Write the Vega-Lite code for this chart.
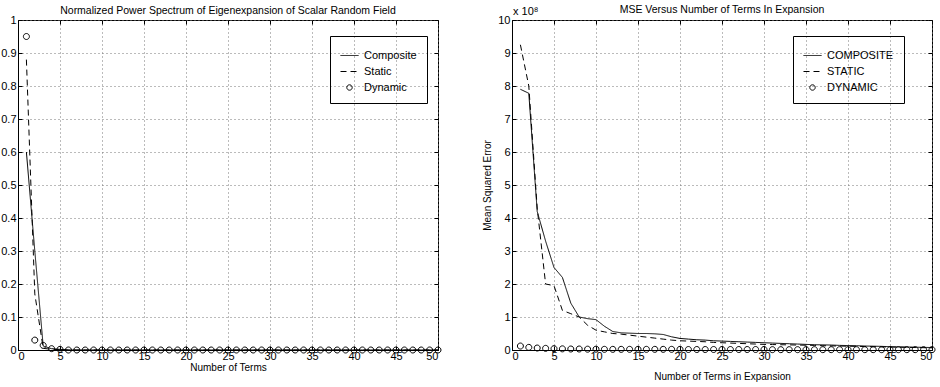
{
  "$schema": "https://vega.github.io/schema/vega-lite/v6.json",
  "background": "white",
  "padding": {"left": 0, "top": 4, "right": 0, "bottom": 0},
  "spacing": 38,
  "resolve": {
    "scale": {"strokeDash": "independent", "shape": "independent"},
    "legend": {"strokeDash": "independent", "shape": "independent"}
  },
  "config": {
    "font": "Liberation Sans",
    "view": {"stroke": "black", "strokeWidth": 1},
    "mark": {"color": "black"},
    "axis": {
      "domainColor": "black", "tickColor": "black", "labelColor": "black", "titleColor": "black",
      "labelFont": "Liberation Sans", "labelFontSize": 11, "titleFont": "Liberation Sans",
      "titleFontSize": 10, "titleFontWeight": "normal",
      "gridColor": "#777777", "gridDash": [1, 3], "gridOpacity": 1, "gridWidth": 1,
      "tickSize": -4, "labelPadding": 4, "domainWidth": 1, "tickWidth": 1
    },
    "legend": {"labelFont": "Liberation Sans", "labelFontSize": 11, "labelColor": "black"},
    "title": {"font": "Liberation Sans", "fontSize": 10.5, "fontWeight": "normal", "color": "black", "offset": -2, "frame": "group"}
  },
  "datasets": {
    "power": [
      {"terms": 1, "Composite": 0.6, "Static": 0.88, "Dynamic": 0.95},
      {"terms": 2, "Composite": 0.3, "Static": 0.17, "Dynamic": 0.03},
      {"terms": 3, "Composite": 0.012, "Static": 0.005, "Dynamic": 0.014},
      {"terms": 4, "Composite": 0.004, "Static": 0.002, "Dynamic": 0.004},
      {"terms": 5, "Composite": 0.002, "Static": 0.001, "Dynamic": 0.002},
      {"terms": 6, "Composite": 0, "Static": 0, "Dynamic": 0},
      {"terms": 7, "Composite": 0, "Static": 0, "Dynamic": 0},
      {"terms": 8, "Composite": 0, "Static": 0, "Dynamic": 0},
      {"terms": 9, "Composite": 0, "Static": 0, "Dynamic": 0},
      {"terms": 10, "Composite": 0, "Static": 0, "Dynamic": 0},
      {"terms": 11, "Composite": 0, "Static": 0, "Dynamic": 0},
      {"terms": 12, "Composite": 0, "Static": 0, "Dynamic": 0},
      {"terms": 13, "Composite": 0, "Static": 0, "Dynamic": 0},
      {"terms": 14, "Composite": 0, "Static": 0, "Dynamic": 0},
      {"terms": 15, "Composite": 0, "Static": 0, "Dynamic": 0},
      {"terms": 16, "Composite": 0, "Static": 0, "Dynamic": 0},
      {"terms": 17, "Composite": 0, "Static": 0, "Dynamic": 0},
      {"terms": 18, "Composite": 0, "Static": 0, "Dynamic": 0},
      {"terms": 19, "Composite": 0, "Static": 0, "Dynamic": 0},
      {"terms": 20, "Composite": 0, "Static": 0, "Dynamic": 0},
      {"terms": 21, "Composite": 0, "Static": 0, "Dynamic": 0},
      {"terms": 22, "Composite": 0, "Static": 0, "Dynamic": 0},
      {"terms": 23, "Composite": 0, "Static": 0, "Dynamic": 0},
      {"terms": 24, "Composite": 0, "Static": 0, "Dynamic": 0},
      {"terms": 25, "Composite": 0, "Static": 0, "Dynamic": 0},
      {"terms": 26, "Composite": 0, "Static": 0, "Dynamic": 0},
      {"terms": 27, "Composite": 0, "Static": 0, "Dynamic": 0},
      {"terms": 28, "Composite": 0, "Static": 0, "Dynamic": 0},
      {"terms": 29, "Composite": 0, "Static": 0, "Dynamic": 0},
      {"terms": 30, "Composite": 0, "Static": 0, "Dynamic": 0},
      {"terms": 31, "Composite": 0, "Static": 0, "Dynamic": 0},
      {"terms": 32, "Composite": 0, "Static": 0, "Dynamic": 0},
      {"terms": 33, "Composite": 0, "Static": 0, "Dynamic": 0},
      {"terms": 34, "Composite": 0, "Static": 0, "Dynamic": 0},
      {"terms": 35, "Composite": 0, "Static": 0, "Dynamic": 0},
      {"terms": 36, "Composite": 0, "Static": 0, "Dynamic": 0},
      {"terms": 37, "Composite": 0, "Static": 0, "Dynamic": 0},
      {"terms": 38, "Composite": 0, "Static": 0, "Dynamic": 0},
      {"terms": 39, "Composite": 0, "Static": 0, "Dynamic": 0},
      {"terms": 40, "Composite": 0, "Static": 0, "Dynamic": 0},
      {"terms": 41, "Composite": 0, "Static": 0, "Dynamic": 0},
      {"terms": 42, "Composite": 0, "Static": 0, "Dynamic": 0},
      {"terms": 43, "Composite": 0, "Static": 0, "Dynamic": 0},
      {"terms": 44, "Composite": 0, "Static": 0, "Dynamic": 0},
      {"terms": 45, "Composite": 0, "Static": 0, "Dynamic": 0},
      {"terms": 46, "Composite": 0, "Static": 0, "Dynamic": 0},
      {"terms": 47, "Composite": 0, "Static": 0, "Dynamic": 0},
      {"terms": 48, "Composite": 0, "Static": 0, "Dynamic": 0},
      {"terms": 49, "Composite": 0, "Static": 0, "Dynamic": 0},
      {"terms": 50, "Composite": 0, "Static": 0, "Dynamic": 0}
    ],
    "mse": [
      {"terms": 1, "COMPOSITE": 7.9, "STATIC": 9.25, "DYNAMIC": 0.12},
      {"terms": 2, "COMPOSITE": 7.78, "STATIC": 8.0, "DYNAMIC": 0.08},
      {"terms": 3, "COMPOSITE": 4.2, "STATIC": 4.3, "DYNAMIC": 0.06},
      {"terms": 4, "COMPOSITE": 3.3, "STATIC": 2.0, "DYNAMIC": 0.05},
      {"terms": 5, "COMPOSITE": 2.5, "STATIC": 1.95, "DYNAMIC": 0.04},
      {"terms": 6, "COMPOSITE": 2.2, "STATIC": 1.2, "DYNAMIC": 0.035},
      {"terms": 7, "COMPOSITE": 1.42, "STATIC": 1.1, "DYNAMIC": 0.03},
      {"terms": 8, "COMPOSITE": 1.0, "STATIC": 1.0, "DYNAMIC": 0.03},
      {"terms": 9, "COMPOSITE": 0.95, "STATIC": 0.75, "DYNAMIC": 0.025},
      {"terms": 10, "COMPOSITE": 0.92, "STATIC": 0.6, "DYNAMIC": 0.025},
      {"terms": 11, "COMPOSITE": 0.72, "STATIC": 0.55, "DYNAMIC": 0.02},
      {"terms": 12, "COMPOSITE": 0.56, "STATIC": 0.5, "DYNAMIC": 0.02},
      {"terms": 13, "COMPOSITE": 0.52, "STATIC": 0.48, "DYNAMIC": 0.02},
      {"terms": 14, "COMPOSITE": 0.51, "STATIC": 0.45, "DYNAMIC": 0.02},
      {"terms": 15, "COMPOSITE": 0.5, "STATIC": 0.42, "DYNAMIC": 0.02},
      {"terms": 16, "COMPOSITE": 0.5, "STATIC": 0.39, "DYNAMIC": 0.02},
      {"terms": 17, "COMPOSITE": 0.49, "STATIC": 0.36, "DYNAMIC": 0.02},
      {"terms": 18, "COMPOSITE": 0.47, "STATIC": 0.33, "DYNAMIC": 0.02},
      {"terms": 19, "COMPOSITE": 0.4, "STATIC": 0.3, "DYNAMIC": 0.02},
      {"terms": 20, "COMPOSITE": 0.35, "STATIC": 0.28, "DYNAMIC": 0.02},
      {"terms": 21, "COMPOSITE": 0.33, "STATIC": 0.27, "DYNAMIC": 0.015},
      {"terms": 22, "COMPOSITE": 0.31, "STATIC": 0.26, "DYNAMIC": 0.015},
      {"terms": 23, "COMPOSITE": 0.3, "STATIC": 0.25, "DYNAMIC": 0.015},
      {"terms": 24, "COMPOSITE": 0.28, "STATIC": 0.23, "DYNAMIC": 0.015},
      {"terms": 25, "COMPOSITE": 0.27, "STATIC": 0.22, "DYNAMIC": 0.015},
      {"terms": 26, "COMPOSITE": 0.26, "STATIC": 0.21, "DYNAMIC": 0.015},
      {"terms": 27, "COMPOSITE": 0.25, "STATIC": 0.2, "DYNAMIC": 0.015},
      {"terms": 28, "COMPOSITE": 0.24, "STATIC": 0.19, "DYNAMIC": 0.015},
      {"terms": 29, "COMPOSITE": 0.23, "STATIC": 0.18, "DYNAMIC": 0.015},
      {"terms": 30, "COMPOSITE": 0.22, "STATIC": 0.17, "DYNAMIC": 0.015},
      {"terms": 31, "COMPOSITE": 0.21, "STATIC": 0.165, "DYNAMIC": 0.01},
      {"terms": 32, "COMPOSITE": 0.2, "STATIC": 0.16, "DYNAMIC": 0.01},
      {"terms": 33, "COMPOSITE": 0.19, "STATIC": 0.155, "DYNAMIC": 0.01},
      {"terms": 34, "COMPOSITE": 0.18, "STATIC": 0.15, "DYNAMIC": 0.01},
      {"terms": 35, "COMPOSITE": 0.17, "STATIC": 0.145, "DYNAMIC": 0.01},
      {"terms": 36, "COMPOSITE": 0.16, "STATIC": 0.14, "DYNAMIC": 0.01},
      {"terms": 37, "COMPOSITE": 0.155, "STATIC": 0.13, "DYNAMIC": 0.01},
      {"terms": 38, "COMPOSITE": 0.15, "STATIC": 0.125, "DYNAMIC": 0.01},
      {"terms": 39, "COMPOSITE": 0.14, "STATIC": 0.12, "DYNAMIC": 0.01},
      {"terms": 40, "COMPOSITE": 0.135, "STATIC": 0.115, "DYNAMIC": 0.01},
      {"terms": 41, "COMPOSITE": 0.13, "STATIC": 0.11, "DYNAMIC": 0.01},
      {"terms": 42, "COMPOSITE": 0.12, "STATIC": 0.105, "DYNAMIC": 0.01},
      {"terms": 43, "COMPOSITE": 0.115, "STATIC": 0.1, "DYNAMIC": 0.01},
      {"terms": 44, "COMPOSITE": 0.11, "STATIC": 0.095, "DYNAMIC": 0.01},
      {"terms": 45, "COMPOSITE": 0.1, "STATIC": 0.09, "DYNAMIC": 0.01},
      {"terms": 46, "COMPOSITE": 0.095, "STATIC": 0.085, "DYNAMIC": 0.01},
      {"terms": 47, "COMPOSITE": 0.09, "STATIC": 0.08, "DYNAMIC": 0.01},
      {"terms": 48, "COMPOSITE": 0.085, "STATIC": 0.075, "DYNAMIC": 0.01},
      {"terms": 49, "COMPOSITE": 0.08, "STATIC": 0.07, "DYNAMIC": 0.01},
      {"terms": 50, "COMPOSITE": 0.075, "STATIC": 0.065, "DYNAMIC": 0.01}
    ]
  },
  "hconcat": [
    {
      "title": {"text": "Normalized Power Spectrum of Eigenexpansion of Scalar Random Field"},
      "width": 420,
      "height": 330,
      "data": {"name": "power"},
      "transform": [{"fold": ["Composite", "Static", "Dynamic"], "as": ["series", "value"]}],
      "layer": [
        {
          "transform": [{"filter": "datum.series !== 'Dynamic'"}],
          "mark": {"type": "line", "strokeWidth": 1},
          "encoding": {
            "x": {"field": "terms", "type": "quantitative", "scale": {"domain": [0, 50], "nice": false},
              "axis": {"title": "Number of Terms", "values": [0,5,10,15,20,25,30,35,40,45,50], "titlePadding": 1}},
            "y": {"field": "value", "type": "quantitative", "scale": {"domain": [0, 1], "nice": false},
              "axis": {"title": null, "values": [0,0.1,0.2,0.3,0.4,0.5,0.6,0.7,0.8,0.9,1], "format": "~g", "labelPadding": 6}},
            "strokeDash": {"field": "series", "type": "nominal",
              "scale": {"domain": ["Composite", "Static", "Dynamic"], "range": [[1, 0], [6, 4], [1, 0]]},
              "legend": {"orient": "none", "legendX": 312, "legendY": 16, "title": null, "strokeColor": "black", "padding": 10,
                "symbolSize": 324, "rowPadding": 1, "labelOffset": 5, "symbolStrokeWidth": 1, "symbolStrokeColor": "black", "symbolFillColor": "transparent"}}
          }
        },
        {
          "transform": [{"filter": "datum.series === 'Dynamic'"}],
          "mark": {"type": "point", "filled": false, "size": 400, "strokeWidth": 1, "opacity": 1},
          "encoding": {
            "x": {"field": "terms", "type": "quantitative",
              "axis": {"orient": "top", "labels": false, "title": null, "grid": false, "domain": false, "values": [0,5,10,15,20,25,30,35,40,45,50]}},
            "y": {"field": "value", "type": "quantitative",
              "axis": {"orient": "right", "labels": false, "title": null, "grid": false, "domain": false, "values": [0,0.1,0.2,0.3,0.4,0.5,0.6,0.7,0.8,0.9,1]}},
            "shape": {"field": "series", "type": "nominal",
              "scale": {"domain": ["Composite", "Static", "Dynamic"], "range": ["M-1,0L1,0", "M-1,0L1,0", "M0.3,0A0.3,0.3,0,1,1,-0.3,0A0.3,0.3,0,1,1,0.3,0Z"]},
              "legend": {"orient": "none", "legendX": 312, "legendY": 16, "title": null, "strokeColor": "black", "padding": 10,
                "symbolSize": 324, "rowPadding": 1, "labelOffset": 5, "symbolStrokeWidth": 1, "symbolStrokeColor": "black", "symbolFillColor": "transparent"}}
          }
        }
      ],
      "resolve": {"axis": {"x": "independent", "y": "independent"}}
    },
    {
      "title": {"text": "MSE Versus Number of Terms In Expansion", "dy": 7},
      "width": 420,
      "height": 330,
      "data": {"name": "mse"},
      "transform": [{"fold": ["COMPOSITE", "STATIC", "DYNAMIC"], "as": ["series", "value"]}],
      "layer": [
        {
          "transform": [{"filter": "datum.series !== 'DYNAMIC'"}],
          "mark": {"type": "line", "strokeWidth": 1},
          "encoding": {
            "x": {"field": "terms", "type": "quantitative", "scale": {"domain": [0, 50], "nice": false},
              "axis": {"title": "Number of Terms in Expansion", "values": [0,5,10,15,20,25,30,35,40,45,50], "titlePadding": 10}},
            "y": {"field": "value", "type": "quantitative", "scale": {"domain": [0, 10], "nice": false},
              "axis": {"title": "Mean Squared Error", "values": [0,1,2,3,4,5,6,7,8,9,10], "labelPadding": 6, "titlePadding": 5}},
            "strokeDash": {"field": "series", "type": "nominal",
              "scale": {"domain": ["COMPOSITE", "STATIC", "DYNAMIC"], "range": [[1, 0], [6, 4], [1, 0]]},
              "legend": {"orient": "none", "legendX": 281, "legendY": 16, "title": null, "strokeColor": "black", "padding": 10,
                "symbolSize": 324, "rowPadding": 1, "labelOffset": 5, "symbolStrokeWidth": 1, "symbolStrokeColor": "black", "symbolFillColor": "transparent"}}
          }
        },
        {
          "transform": [{"filter": "datum.series === 'DYNAMIC'"}],
          "mark": {"type": "point", "filled": false, "size": 400, "strokeWidth": 1, "opacity": 1},
          "encoding": {
            "x": {"field": "terms", "type": "quantitative",
              "axis": {"orient": "top", "labels": false, "title": null, "grid": false, "domain": false, "values": [0,5,10,15,20,25,30,35,40,45,50]}},
            "y": {"field": "value", "type": "quantitative",
              "axis": {"orient": "right", "labels": false, "title": null, "grid": false, "domain": false, "values": [0,1,2,3,4,5,6,7,8,9,10]}},
            "shape": {"field": "series", "type": "nominal",
              "scale": {"domain": ["COMPOSITE", "STATIC", "DYNAMIC"], "range": ["M-1,0L1,0", "M-1,0L1,0", "M0.3,0A0.3,0.3,0,1,1,-0.3,0A0.3,0.3,0,1,1,0.3,0Z"]},
              "legend": {"orient": "none", "legendX": 281, "legendY": 16, "title": null, "strokeColor": "black", "padding": 10,
                "symbolSize": 324, "rowPadding": 1, "labelOffset": 5, "symbolStrokeWidth": 1, "symbolStrokeColor": "black", "symbolFillColor": "transparent"}}
          }
        },
        {
          "data": {"values": [{"label": "x 10⁸"}]},
          "mark": {"type": "text", "align": "left", "baseline": "alphabetic", "dx": 1, "dy": -5, "fontSize": 11, "font": "Liberation Sans"},
          "encoding": {
            "x": {"datum": 0, "type": "quantitative", "axis": null},
            "y": {"datum": 10, "type": "quantitative", "axis": null},
            "text": {"field": "label"}
          }
        }
      ],
      "resolve": {"axis": {"x": "independent", "y": "independent"}}
    }
  ]
}
